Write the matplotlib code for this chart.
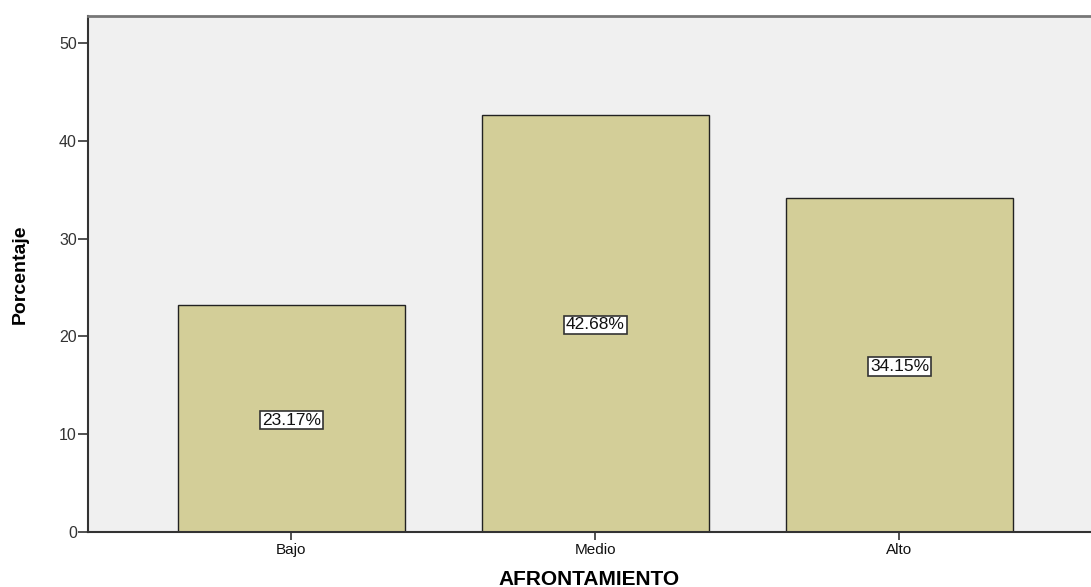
import matplotlib
matplotlib.use("Agg")
import matplotlib.pyplot as plt

categorias = ["Bajo", "Medio", "Alto"]
porcentajes = [23.17, 42.68, 34.15]
etiquetas = ["23.17%", "42.68%", "34.15%"]
yticks = [0, 10, 20, 30, 40, 50]

plt.rcParams['font.family'] = ['Liberation Sans', 'DejaVu Sans']

fig = plt.figure(figsize=(10.91, 5.87), dpi=100)
ax = fig.add_axes([0.0807, 0.0937, 0.9193, 0.879])
ax.set_facecolor('#F0F0F0')

x = range(len(categorias))
ax.bar(x, porcentajes, width=0.747, color='#D3CE98', edgecolor='#222222', linewidth=1.0, zorder=2)

for i, (v, lab) in enumerate(zip(porcentajes, etiquetas)):
  ax.text(i, v/2, lab, ha='center', va='center_baseline', fontsize=12.5, color='#111111', zorder=3,
          bbox=dict(boxstyle='square,pad=0.1', facecolor='white', edgecolor='#333333', linewidth=1.2))

ax.set_xlim(-0.669, 2.63)
ax.set_ylim(0, 52.76)
ax.set_yticks(yticks)
ax.set_xticks(list(x))
ax.set_xticklabels(categorias, fontsize=11)
ax.tick_params(axis='y', labelsize=11.5, length=7, width=1.2, color='#333333', pad=1, labelcolor='#333333')
ax.tick_params(axis='x', length=6, width=1.2, color='#333333', pad=2, labelcolor='#111111')

for s in ['left', 'bottom']:
  ax.spines[s].set_color('#333333')
  ax.spines[s].set_linewidth(1.5)
ax.spines['top'].set_color('#777777')
ax.spines['top'].set_linewidth(2)
ax.spines['right'].set_visible(False)

ax.set_ylabel('Porcentaje', fontsize=14, fontweight='bold', labelpad=22)
ax.set_xlabel('AFRONTAMIENTO', fontsize=15, fontweight='bold', labelpad=9)

fig.savefig('out.png', dpi=100)
